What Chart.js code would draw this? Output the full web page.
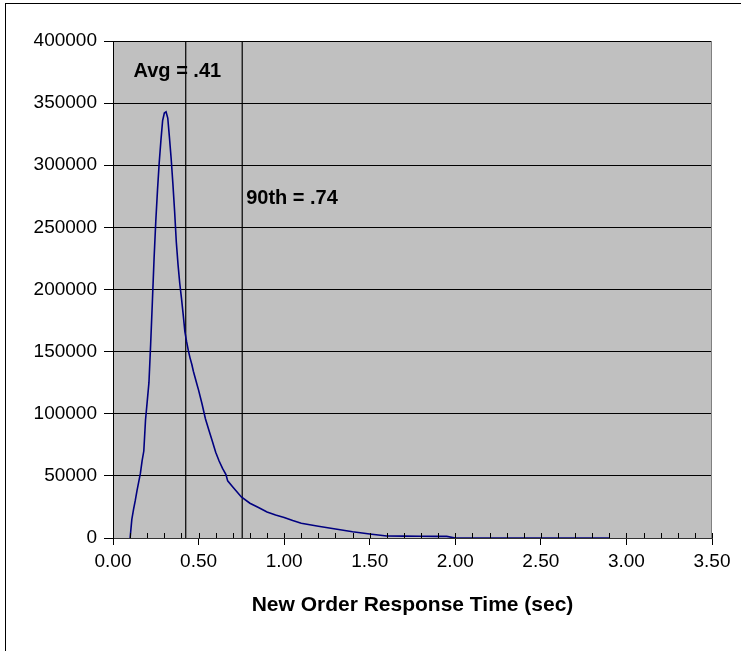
<!DOCTYPE html>
<html><head><meta charset="utf-8">
<script src="https://cdn.jsdelivr.net/npm/chart.js@4/dist/chart.umd.min.js"></script>
<style>html,body{margin:0;padding:0;background:#fff;}</style>
</head><body>
<canvas id="c" width="741" height="651"></canvas>
<script>
// Response time (sec) and count of New Order transactions
const responseTimes = [0.10,0.11,0.12,0.13,0.14,0.15,0.16,0.17,0.18,0.19,0.20,0.21,0.22,0.23,0.24,0.25,0.26,0.27,0.28,0.29,0.30,0.31,0.32,0.33,0.34,0.35,0.36,0.37,0.38,0.39,0.40,0.41,0.42,0.43,0.44,0.45,0.46,0.47,0.48,0.49,0.50,0.52,0.54,0.56,0.58,0.60,0.62,0.64,0.66,0.67,0.70,0.75,0.80,0.85,0.90,0.95,1.00,1.05,1.10,1.20,1.30,1.40,1.50,1.60,1.70,1.80,1.90,1.95,2.00,2.50,2.90];
const orderCounts = [0,15000,23000,30000,38000,45000,52000,62000,70000,95000,110000,125000,156000,190000,225000,255000,280000,302000,320000,336000,342000,343000,338000,322000,305000,285000,263000,238000,220000,205000,193000,180000,166000,158000,151000,145000,140000,134000,129000,124000,119000,108000,96000,87000,78000,69000,62000,56000,51000,46000,41000,33000,28000,24500,21000,18500,16500,14000,11800,9500,7200,5000,3200,1600,1500,1400,1300,1300,0,0,0];

// Reference lines (average and 90th percentile)
const avgLineX = [0.425, 0.425];
const p90LineX = [0.755, 0.755];
const refLineY = [0, 400000];

// Annotation texts and anchors (data coordinates)
const noteTexts = ['Avg = .41', '90th = .74'];
const noteX = [0.12, 0.778];
const noteY = [371000, 269000];

const xTitle = 'New Order Response Time (sec)';
const FONT = '"Liberation Sans", Arial, sans-serif';

const toPts = (xs, ys) => xs.map((x, i) => ({x, y: ys[i]}));

const decor = {
  id: 'decor',
  beforeDraw(chart) {
    const {ctx, chartArea: a} = chart;
    ctx.save();
    ctx.fillStyle = '#fff';
    ctx.fillRect(0, 0, chart.width, chart.height);
    ctx.strokeStyle = '#000';
    ctx.lineWidth = 1;
    ctx.strokeRect(5.5, 3.5, chart.width + 10, chart.height + 10);
    ctx.fillStyle = '#C0C0C0';
    ctx.fillRect(a.left, a.top, a.right - a.left, a.bottom - a.top);
    ctx.restore();
  },
  afterDraw(chart) {
    const {ctx, chartArea: a} = chart;
    const xs = chart.scales.x, ys = chart.scales.y;
    ctx.save();
    ctx.strokeStyle = '#808080';
    ctx.lineWidth = 1;
    ctx.beginPath();
    ctx.moveTo(Math.round(a.right) - 0.5, a.top);
    ctx.lineTo(Math.round(a.right) - 0.5, a.bottom);
    ctx.stroke();
    ctx.strokeStyle = '#000';
    ctx.beginPath();
    for (let i = 0; i <= 35; i++) {
      const px = Math.round(xs.getPixelForValue(i / 10)) + 0.5;
      ctx.moveTo(px, a.bottom - 5);
      ctx.lineTo(px, a.bottom);
    }
    ctx.stroke();
    ctx.fillStyle = '#000';
    ctx.font = 'bold 20px ' + FONT;
    ctx.textBaseline = 'alphabetic';
    ctx.textAlign = 'left';
    noteTexts.forEach((t, i) => {
      ctx.fillText(t, xs.getPixelForValue(noteX[i]), ys.getPixelForValue(noteY[i]));
    });
    ctx.restore();
  }
};

new Chart(document.getElementById('c'), {
  type: 'line',
  data: {
    datasets: [
      {data: toPts(responseTimes, orderCounts), borderColor: '#000080', borderWidth: 1.6, pointRadius: 0, tension: 0, fill: false, order: 0},
      {data: toPts(avgLineX, refLineY), borderColor: '#000', borderWidth: 1.2, pointRadius: 0, fill: false, order: 1},
      {data: toPts(p90LineX, refLineY), borderColor: '#000', borderWidth: 1.2, pointRadius: 0, fill: false, order: 1}
    ]
  },
  options: {
    responsive: false,
    animation: false,
    devicePixelRatio: 1,
    layout: {padding: {top: 41, right: 29, left: 0, bottom: 0}},
    plugins: {legend: {display: false}, tooltip: {enabled: false}},
    scales: {
      x: {
        type: 'linear', min: 0, max: 3.5,
        afterFit: s => { s.height = 113; },
        border: {display: true, color: '#333', width: 1},
        grid: {drawOnChartArea: false, drawTicks: true, tickLength: 7, color: '#000'},
        ticks: {stepSize: 0.5, padding: 5, color: '#000', font: {family: FONT, size: 19}, maxRotation: 0,
                callback: v => Number(v).toFixed(2)},
        title: {display: true, text: xTitle, color: '#000', font: {family: FONT, size: 21, weight: 'bold'}, padding: {top: 0, bottom: 33}}
      },
      y: {
        min: 0, max: 400000,
        afterFit: s => { s.width = 113; },
        border: {display: true, color: '#000', width: 1},
        grid: {color: '#000', lineWidth: 1, drawTicks: true, tickLength: 9},
        ticks: {stepSize: 50000, padding: 7, color: '#000', font: {family: FONT, size: 19},
                callback: v => String(v)}
      }
    }
  },
  plugins: [decor]
});
</script>
</body></html>
